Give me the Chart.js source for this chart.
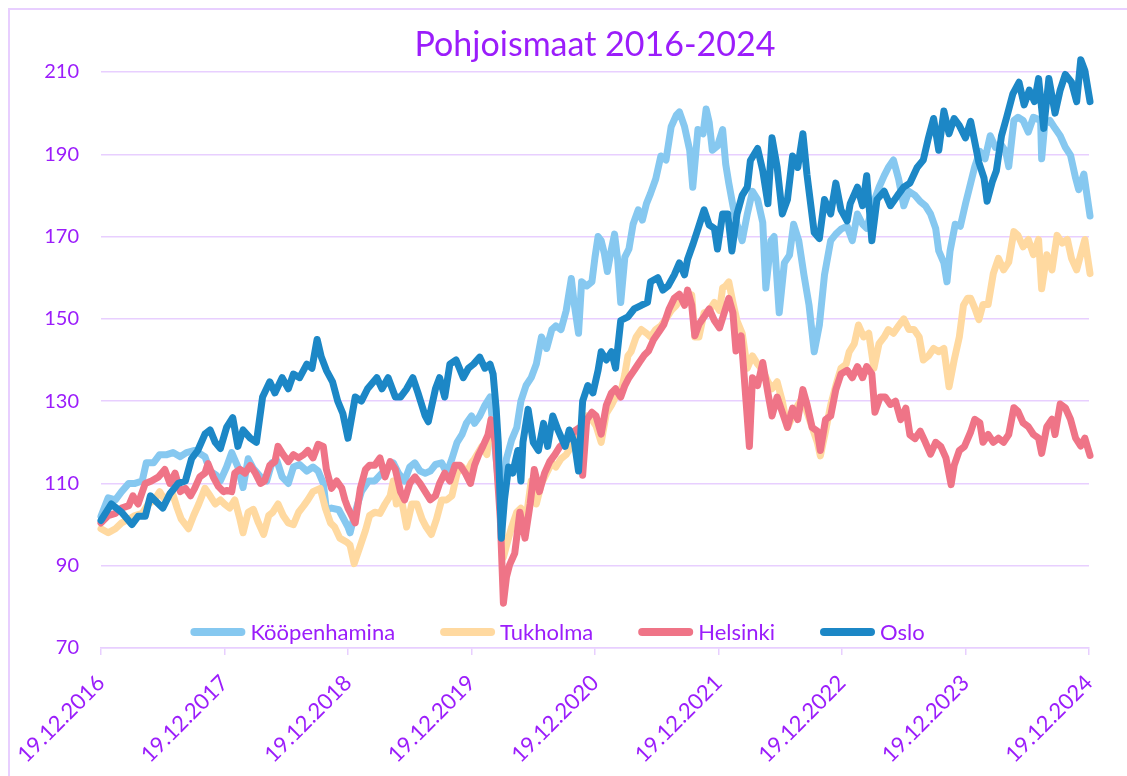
<!DOCTYPE html>
<html>
<head>
<meta charset="utf-8">
<script src="https://cdn.jsdelivr.net/npm/chart.js@4.4.1/dist/chart.umd.min.js"></script>
<style>
  html, body { margin: 0; padding: 0; background: #fff; }
  #wrap { width: 1127px; height: 776px; }
</style>
</head>
<body>
<div id="wrap"><canvas id="chart" width="1127" height="776"></canvas></div>
<script>
// Chart text
const titleText = 'Pohjoismaat 2016-2024';
const yearLabels = ['19.12.2016', '19.12.2017', '19.12.2018', '19.12.2019', '19.12.2020',
  '19.12.2021', '19.12.2022', '19.12.2023', '19.12.2024'];
const seriesNames = ['Kööpenhamina', 'Tukholma', 'Helsinki', 'Oslo'];

// Index values (x = months since 19.12.2016)
const cphMonths = [0, 0.7, 1.4, 2.0, 2.7, 3.3, 4.0, 4.4, 5.1, 5.7, 6.4, 7.0, 7.7, 8.3, 9.1, 10.1, 10.6, 11.2, 11.6,
  12.2, 12.7, 13.3, 13.8, 14.3, 14.8, 15.5, 16.1, 16.6, 17.1, 17.6, 18.2, 18.7, 19.3, 20.0, 20.6, 21.1, 21.6, 21.9,
  22.4, 23.1, 23.6, 24.0, 24.2, 24.7, 25.3, 26.0, 26.6, 27.3, 27.9, 28.4, 28.9, 29.5, 30.0, 30.5, 31.0, 31.5, 32.0,
  32.5, 33.1, 33.6, 34.1, 34.6, 35.1, 35.5, 36.0, 36.3, 36.8, 37.3, 37.8, 38.1, 38.6, 38.9, 39.4, 39.9, 40.4, 40.8,
  41.3, 41.8, 42.3, 42.8, 43.3, 43.8, 44.2, 44.7, 45.2, 45.7, 46.0, 46.4, 46.7, 47.2, 47.7, 48.0, 48.3, 48.6, 48.9,
  49.2, 49.6, 49.9, 50.2, 50.5, 50.9, 51.3, 51.7, 52.2, 52.6, 53.0, 53.4, 53.9, 54.4, 54.9, 55.4, 55.9, 56.2, 56.7,
  57.2, 57.5, 58.0, 58.5, 58.8, 59.1, 59.4, 59.9, 60.4, 60.7, 61.0, 61.4, 61.8, 62.3, 62.8, 63.3, 63.8, 64.3, 64.6,
  65.1, 65.4, 65.9, 66.4, 66.9, 67.3, 67.8, 68.3, 68.8, 69.3, 69.8, 70.3, 70.9, 71.4, 71.9, 72.5, 73.0, 73.5, 74.0,
  74.4, 75.1, 75.6, 76.1, 76.5, 77.0, 77.5, 78.0, 78.5, 79.1, 79.6, 80.1, 80.6, 81.1, 81.4, 81.9, 82.2, 82.5, 83.0,
  83.5, 84.0, 84.5, 84.9, 85.4, 85.9, 86.4, 86.9, 87.4, 87.9, 88.2, 88.7, 89.1, 89.6, 90.1, 90.6, 91.3, 91.4, 91.7,
  92.2, 92.7, 93.2, 93.7, 94.2, 94.7, 95.0, 95.5, 96.1, 96.4];
const cphValues = [102, 106.5, 106, 108, 110, 110, 110.6, 115, 115, 117, 117, 117.5, 116.5, 117.5, 118, 116.5, 113, 112, 110.6,
  114, 117.5, 114, 109, 116, 113.6, 111.6, 110.6, 115, 115.5, 111.6, 110, 114, 114.6, 113, 114, 113, 110, 103.6,
  104, 103.6, 101.3, 99.4, 98, 103, 108, 110.6, 110.6, 112.5, 114, 115, 112.5, 110.6, 114, 115, 113, 112.5, 113,
  114.6, 115, 112.5, 116, 120, 122, 124.6, 126.4, 124.6, 126.4, 129, 131, 123.6, 110.6, 104, 116, 120.6, 123.6, 130,
  133.8, 135.7, 139, 145.6, 142.8, 147.4, 148.3, 147.4, 152, 159.8, 153.3, 146.5, 159, 158, 159, 165, 170, 169, 166,
  161.5, 167, 170.6, 164.5, 154, 165, 167, 173, 176.5, 174, 178, 180.5, 184, 189.6, 188.6, 196.7, 199.5, 200.3, 196.7,
  191, 182, 196, 195, 201, 197.7, 191, 192, 196, 187.6, 183, 177.5, 173, 169, 175.5, 181, 179, 173.4, 157.5,
  169, 170, 151.5, 163.6, 165.5, 173, 169, 160.7, 153.3, 142, 148.5, 160.7, 169, 170.6, 171.8, 172.5, 169, 175.5, 173,
  172, 178.5, 182, 184.8, 186.8, 188.6, 184, 177.5, 181, 180, 178.5, 177.5, 175.5, 172, 166.5, 163.6, 159, 166.5, 173,
  172.5, 178, 183, 187, 190.7, 188.9, 194.5, 191.7, 192.6, 190.7, 187, 198.2, 199, 198.2, 195.4, 199, 198.2, 188.9, 197.3,
  198.2, 196.3, 194.5, 191.7, 189.8, 184.2, 181.4, 185.2, 175, 178.6];

const sthMonths = [0, 0.7, 1.4, 2.0, 2.7, 3.3, 4.0, 4.6, 5.2, 5.7, 6.2, 6.9, 7.4, 7.8, 8.5, 9.0, 9.5, 10.1, 10.6, 11.1,
  11.6, 12.0, 12.5, 13.0, 13.5, 13.8, 14.3, 14.8, 15.3, 15.8, 16.3, 16.7, 17.2, 17.7, 18.2, 18.7, 19.2, 19.7, 20.1,
  20.6, 21.3, 21.8, 22.3, 22.7, 23.2, 23.9, 24.2, 24.6, 25.2, 25.7, 26.1, 26.6, 27.1, 27.6, 28.1, 28.4, 28.7, 29.2,
  29.7, 30.2, 30.7, 31.2, 31.6, 32.1, 32.6, 33.1, 33.6, 34.1, 34.6, 35.1, 35.5, 36.0, 36.3, 37.0, 37.5, 37.9, 38.4,
  38.8, 39.1, 39.4, 39.9, 40.4, 40.8, 41.3, 41.8, 42.3, 42.8, 43.3, 43.8, 44.2, 44.7, 45.2, 45.7, 46.2, 46.7, 47.2,
  47.7, 48.1, 48.6, 49.1, 49.6, 50.0, 50.5, 50.9, 51.2, 51.5, 52.0, 52.5, 53.0, 53.4, 53.9, 54.4, 54.9, 55.4, 55.9,
  56.4, 56.9, 57.4, 57.7, 58.1, 58.6, 59.1, 59.6, 60.1, 60.4, 60.7, 61.0, 61.4, 61.8, 62.3, 62.8, 63.3, 63.8, 64.3,
  64.8, 65.2, 65.7, 66.2, 66.7, 67.2, 67.7, 68.2, 68.6, 69.1, 69.6, 69.9, 70.4, 70.9, 71.4, 71.9, 72.4, 72.7, 73.2,
  73.6, 74.1, 74.6, 75.1, 75.6, 76.1, 76.5, 77.0, 77.5, 78.0, 78.5, 79.0, 79.5, 79.9, 80.4, 80.9, 81.4, 81.9, 82.4,
  82.9, 83.4, 83.8, 84.2, 84.5, 84.9, 85.3, 85.7, 86.2, 86.7, 87.2, 87.7, 88.2, 88.7, 89.1, 89.6, 90.1, 90.6, 91.1,
  91.4, 91.9, 92.4, 92.9, 93.4, 93.9, 94.3, 94.8, 95.3, 95.6, 96.1, 96.4];
const sthValues = [99, 98, 99, 100.4, 101.3, 102.2, 102.7, 105, 106, 108, 106, 108, 104, 101.3, 99, 102.2, 105, 108.8, 107, 105,
  106, 105, 104, 106, 101.3, 98, 103, 103.7, 100.4, 97.6, 102.2, 103, 105, 102.2, 100.4, 100, 103, 104.6, 106,
  108, 108.8, 104, 100.4, 99.4, 96.7, 95.7, 95, 90.5, 94.9, 98.6, 102.2, 103, 102.7, 105, 107, 110.6, 105, 106,
  99.4, 105, 105, 101.3, 99.4, 97.6, 101.3, 106, 106, 107, 112.5, 114, 112.5, 115, 116, 119, 117, 125.5, 119,
  106, 92, 94.9, 99.4, 103, 104, 101.3, 110.6, 105, 110, 112.5, 115, 114, 116, 117, 119, 120, 123.6, 126.4,
  125.5, 124, 120, 127, 129, 131, 132, 136.6, 141, 142, 145.6, 147.4, 146.5, 145.6, 147.4, 148.3, 150, 152, 153.3,
  155, 154, 155.8, 145.6, 145.6, 151.5, 152, 154, 152, 157.5, 158, 159, 154, 149.5, 146.5, 138, 141, 139, 137.5,
  134.7, 133, 134.7, 130, 123.6, 126.4, 129, 131, 127.3, 123.6, 120, 116.7, 122.7, 129, 133.8, 138, 139, 142, 144,
  148.5, 145.6, 146.5, 138, 144, 145.6, 147.4, 146.5, 148.3, 150, 147.4, 147.4, 145.6, 140, 141, 142.8, 142, 142.8, 133.5,
  140, 145.6, 153.3, 155, 155, 152.6, 149.8, 153.5, 153.5, 161, 164.7, 161.9, 163.8, 171.2, 170.3, 167.5, 169.3, 165.6, 169.3,
  157.3, 165.6, 161.9, 170.3, 168.4, 169.3, 164.7, 161.9, 166.6, 169.3, 161, 161];

const helMonths = [0, 0.7, 1.4, 2.0, 2.7, 3.1, 3.6, 4.3, 4.9, 5.6, 6.2, 6.7, 7.2, 7.7, 8.2, 8.7, 9.1, 9.6, 10.1, 10.4,
  10.9, 11.4, 11.9, 12.2, 12.7, 13.0, 13.5, 14.0, 14.5, 15.0, 15.5, 15.9, 16.4, 16.9, 17.2, 17.7, 18.2, 18.7, 19.2,
  19.7, 20.1, 20.6, 21.1, 21.6, 21.9, 22.4, 22.9, 23.4, 23.7, 24.0, 24.2, 24.7, 25.2, 25.7, 26.1, 26.6, 27.1, 27.6,
  28.1, 28.6, 29.1, 29.5, 30.0, 30.5, 31.0, 31.5, 32.0, 32.5, 32.9, 33.4, 33.9, 34.4, 34.9, 35.4, 35.9, 36.3, 36.7,
  37.1, 37.6, 37.9, 38.3, 38.8, 39.1, 39.4, 39.7, 40.2, 40.7, 41.2, 41.7, 42.1, 42.6, 43.1, 43.6, 44.1, 44.6, 45.1,
  45.5, 46.0, 46.5, 46.8, 47.2, 47.7, 48.1, 48.6, 49.1, 49.6, 50.0, 50.5, 50.9, 51.3, 51.8, 52.3, 52.8, 53.2, 53.7,
  54.2, 54.7, 55.2, 55.7, 56.2, 56.7, 57.0, 57.4, 57.7, 58.1, 58.6, 59.1, 59.6, 60.1, 60.5, 61.0, 61.4, 61.7, 62.2,
  62.7, 63.0, 63.3, 63.8, 64.3, 64.8, 65.2, 65.7, 66.2, 66.7, 67.2, 67.7, 68.2, 68.6, 69.1, 69.6, 69.9, 70.4, 70.9,
  71.4, 71.9, 72.5, 73.0, 73.5, 74.0, 74.4, 74.9, 75.2, 75.7, 76.2, 76.7, 77.2, 77.7, 78.2, 78.6, 79.1, 79.6, 80.1,
  80.6, 81.1, 81.6, 82.1, 82.6, 82.9, 83.4, 83.9, 84.5, 84.9, 85.4, 85.7, 86.2, 86.7, 87.2, 87.7, 88.2, 88.7, 89.1,
  89.6, 90.1, 90.6, 91.1, 91.4, 91.9, 92.4, 92.7, 93.2, 93.7, 94.2, 94.7, 95.2, 95.6, 96.1, 96.4];
const helValues = [100.4, 102.2, 102.7, 104, 104.6, 107, 105, 110, 110.6, 111.6, 113.4, 110, 112.5, 108, 108.8, 107, 108.8, 111.6, 112.5, 114.8,
  111.6, 109.3, 108, 108.3, 108, 112.5, 113.4, 112.5, 114.4, 112.5, 110, 110.6, 114.4, 115.3, 119, 117, 115.3, 117, 116.2,
  117, 118, 116.2, 119.5, 119, 113.4, 108.8, 110.6, 108.8, 106, 104, 103, 100.4, 108.8, 113.4, 114.4, 114.4, 116.2, 111.6,
  115.3, 113.4, 108, 106, 110, 111.6, 110, 108, 106, 107, 110, 112.5, 110.6, 114.4, 114.4, 112.5, 110, 114.4, 117,
  119, 121.8, 125.5, 120, 101.3, 80.9, 87.3, 90.2, 93, 103, 96.7, 105, 113.4, 108, 112.5, 115.3, 117, 119, 120,
  121, 122.7, 123.6, 112, 125.5, 127.3, 126.4, 122, 129, 132, 133, 131, 133.8, 135.7, 137.5, 139.4, 141.2, 142.2, 145,
  146.8, 148.7, 152.4, 155, 156, 153.3, 157, 153.3, 145.9, 148.7, 150.5, 152.4, 149.6, 147.8, 151, 155, 151.5, 142.2, 145.9,
  129.2, 119, 135.7, 133.8, 139.4, 132, 126.4, 131, 127.3, 123.6, 128.3, 125.5, 132.8, 129.2, 123.6, 122.7, 118, 125.5, 126.4,
  132.8, 136.6, 137.5, 135.7, 138.4, 135.7, 138.4, 136.6, 127.3, 131, 131, 129.2, 130, 125.5, 128.3, 121.8, 120.9, 122.7, 120,
  117.1, 120, 119, 116.2, 109.7, 114.4, 118, 119, 122.5, 125.6, 124.7, 120, 121.9, 120, 121, 120, 121.9, 128.4, 127.5,
  124.7, 123.8, 121.9, 121, 117.3, 123.8, 125.6, 121.9, 129.3, 128.4, 125.6, 121, 119.1, 121, 116.8, 118.2];

const osloMonths = [0, 1.0, 2.0, 3.0, 3.6, 4.3, 4.8, 5.4, 6.0, 6.7, 7.5, 8.2, 8.8, 9.4, 10.1, 10.6, 11.1, 11.6, 12.2,
  12.8, 13.3, 13.8, 14.5, 15.1, 15.7, 16.4, 16.9, 17.6, 18.2, 18.7, 19.3, 20.0, 20.5, 21.0, 21.4, 21.9, 22.5, 23.0,
  23.5, 24.0, 24.7, 25.3, 25.9, 26.8, 27.3, 27.9, 28.6, 29.1, 29.7, 30.3, 30.8, 31.5, 31.8, 32.5, 32.9, 33.4, 33.9,
  34.5, 35.2, 35.7, 36.2, 36.8, 37.3, 37.8, 38.1, 38.4, 38.6, 38.9, 39.2, 39.6, 40.0, 40.5, 40.8, 41.0, 41.5, 42.0,
  42.5, 43.0, 43.4, 43.9, 44.4, 45.1, 45.5, 46.0, 46.4, 46.8, 47.3, 47.8, 48.3, 48.6, 49.1, 49.6, 50.0, 50.5, 51.2,
  51.8, 52.5, 53.1, 53.4, 54.1, 54.6, 55.1, 55.7, 56.2, 56.7, 57.0, 57.5, 58.0, 58.6, 59.1, 59.6, 59.9, 60.4, 60.9,
  61.3, 61.8, 62.3, 62.8, 63.1, 63.8, 64.3, 64.8, 65.2, 65.7, 66.2, 66.7, 67.2, 67.7, 68.2, 68.6, 69.3, 69.8, 70.3,
  70.9, 71.4, 71.9, 72.5, 72.8, 73.5, 74.0, 74.4, 74.9, 75.4, 76.1, 76.7, 77.4, 78.0, 78.6, 79.3, 79.9, 80.4, 80.9,
  81.4, 81.9, 82.4, 82.9, 83.4, 84.0, 84.5, 85.3, 85.8, 86.1, 86.6, 87.0, 87.5, 88.0, 88.6, 89.2, 89.7, 90.2, 90.7,
  91.1, 91.6, 92.1, 92.7, 93.2, 93.7, 94.3, 94.8, 95.2, 95.6, 96.1, 96.4];
const osloValues = [101, 105, 103, 100, 102, 102, 107, 105.5, 104, 107.5, 110, 110.6, 116, 118, 122, 123, 120, 118.5, 123.6,
  126, 119, 123, 121, 120, 131, 134.7, 132, 135.7, 133, 136.6, 135.7, 139, 138, 145, 140.8, 137.5, 134.7, 130,
  127, 121, 131, 130, 133, 135.7, 133, 135.7, 131, 131, 133, 135.7, 132, 126.4, 125, 133, 135.7, 131, 139,
  140, 135.7, 138, 139, 140.7, 138, 139, 136.6, 128, 120, 96.7, 106, 114, 112.5, 118, 110.6, 120, 128, 120,
  118, 124.6, 119, 126.4, 123, 119, 123, 120, 113, 130, 133.8, 132, 137.5, 142, 140, 142, 138, 149.6, 150.5,
  152.4, 153.3, 154, 159, 160, 157, 158, 160.7, 163.6, 160.7, 164.5, 168, 171.8, 176.5, 172.8, 172, 167, 175.5, 175.5,
  166.5, 175.5, 180, 182, 188.5, 191.4, 186, 178, 194, 186.8, 175.5, 179, 189.6, 186.8, 195, 185, 171, 169.5, 179,
  175.5, 183, 176.5, 173.8, 178, 182, 177.5, 184.8, 169, 179, 181, 177.5, 180, 182, 183, 186.8, 188.6, 194, 198.7,
  191, 200.5, 195, 198.7, 197, 194, 198, 188, 184.2, 178.6, 183.3, 186, 194.5, 199, 204.7, 207.5, 202, 205.6, 202.8,
  208.4, 196.3, 208.4, 200, 205.6, 209.4, 207.5, 202.8, 213, 210.3, 202.8, 205.6];

// Colors
const purple = '#9B1DFB';
const gridColor = '#E8CFFF';
const seriesColors = ['#86C8F0', '#FFD9A0', '#EF7487', '#1C87C6'];

const monthsList = [cphMonths, sthMonths, helMonths, osloMonths];
const valuesList = [cphValues, sthValues, helValues, osloValues];

// Frame round the chart
const framePlugin = {
  id: 'frame',
  beforeDraw(chart) {
    const ctx = chart.ctx;
    ctx.save();
    ctx.fillStyle = '#fff';
    ctx.fillRect(0, 0, chart.width, chart.height);
    ctx.strokeStyle = gridColor;
    ctx.lineWidth = 2;
    ctx.strokeRect(9, 9, chart.width + 20, chart.height + 20);
    ctx.restore();
  }
};

// Title above plot and legend inside plot
const titleLegendPlugin = {
  id: 'titleLegend',
  afterDraw(chart) {
    const ctx = chart.ctx;
    const area = chart.chartArea;
    ctx.save();
    ctx.fillStyle = purple;
    ctx.font = '34px Lato';
    ctx.textAlign = 'center';
    ctx.textBaseline = 'alphabetic';
    ctx.fillText(titleText, (area.left + area.right) / 2, 56);

    ctx.font = '22px Lato';
    const lineLen = 55, gap = 5, itemGap = 45;
    const widths = seriesNames.map(n => ctx.measureText(n).width);
    const total = widths.reduce((s, w) => s + w, 0) + seriesNames.length * (lineLen + gap) + (seriesNames.length - 1) * itemGap;
    let x = chart.width / 2 - 6 - total / 2;
    const y = 632;
    ctx.textAlign = 'left';
    ctx.textBaseline = 'middle';
    ctx.lineCap = 'round';
    ctx.lineWidth = 8;
    seriesNames.forEach((name, i) => {
      ctx.strokeStyle = seriesColors[i];
      ctx.beginPath();
      ctx.moveTo(x + 4, y);
      ctx.lineTo(x + lineLen - 4, y);
      ctx.stroke();
      x += lineLen + gap;
      ctx.fillStyle = purple;
      ctx.fillText(name, x, y + 1);
      x += widths[i] + itemGap;
    });
    ctx.restore();
  }
};

const datasets = seriesNames.map((name, i) => ({
  label: name,
  data: monthsList[i].map((m, j) => ({ x: m, y: valuesList[i][j] })),
  borderColor: seriesColors[i],
  borderWidth: 7,
  pointRadius: 0,
  tension: 0,
  borderJoinStyle: 'round',
  borderCapStyle: 'round',
  clip: false,
  order: seriesNames.length - i
}));

new Chart(document.getElementById('chart'), {
  type: 'line',
  data: { datasets: datasets },
  options: {
    responsive: false,
    animation: false,
    events: [],
    layout: { padding: { left: 8, top: 72, right: 38, bottom: 0 } },
    scales: {
      x: {
        type: 'linear',
        min: 0,
        max: 96,
        afterFit: s => { s.height = 128; },
        ticks: {
          stepSize: 12,
          autoSkip: false,
          minRotation: 45,
          maxRotation: 45,
          padding: 15,
          color: purple,
          font: { family: 'Lato', size: 22 },
          callback: v => yearLabels[v / 12] || ''
        },
        grid: {
          drawOnChartArea: false,
          drawTicks: true,
          tickLength: 7,
          color: gridColor,
          lineWidth: 1.5
        },
        border: { color: gridColor, width: 1.5 }
      },
      y: {
        min: 70,
        max: 210,
        afterFit: s => { s.width = 93; },
        ticks: {
          stepSize: 20,
          padding: 22,
          color: purple,
          font: { family: 'Lato', size: 20 }
        },
        grid: { color: gridColor, lineWidth: 1.5, drawTicks: false },
        border: { display: false }
      }
    },
    plugins: {
      legend: { display: false },
      title: { display: false },
      tooltip: { enabled: false }
    }
  },
  plugins: [framePlugin, titleLegendPlugin]
});
</script>
</body>
</html>
